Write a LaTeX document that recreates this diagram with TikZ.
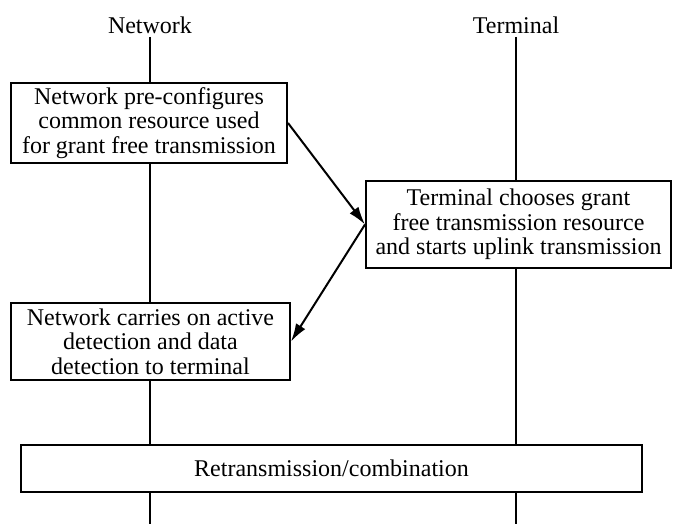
\documentclass[tikz,border=0pt]{standalone}
\usepackage{fontspec}
\setmainfont{Liberation Serif}
\usetikzlibrary{arrows.meta,positioning}

\begin{document}
\begin{tikzpicture}[x=1pt, y=1pt,
    every node/.style={font=\fontsize{24}{24.5}\selectfont},
    stepbox/.style={draw, line width=2pt, fill=white, align=center, inner sep=0pt},
    msg/.style={line width=2pt, -{Latex[length=18pt, width=11pt]}}]
    \useasboundingbox (0,0) rectangle (673,524);
    % Lebenslinien
    \node (net) at (150, 499) {Network};
    \node (term) at (516, 499) {Terminal};
    \coordinate (netend) at (150, 0);
    \coordinate (termend) at (516, 0);
    \draw[line width=1.6pt] (net.south) -- (netend);
    \draw[line width=1.6pt] (term.south) -- (termend);
    % Schritte
    \node[stepbox, minimum width=276, minimum height=80] (conf) at (149, 401)
        {Network pre-configures\\common resource used\\for grant free transmission};
    \node[stepbox, minimum width=305, minimum height=87] (choose) at (518.5, 299.5)
        {Terminal chooses grant\\free transmission resource\\and starts uplink transmission};
    \node[stepbox, minimum width=279, minimum height=77] (detect) at (150.5, 182.5)
        {Network carries on active\\detection and data\\detection to terminal};
    \node[stepbox, minimum width=621, minimum height=47] (retx) at (331.5, 55.5)
        {Retransmission/combination};
    % Nachrichten
    \draw[msg] (conf.east) -- (choose.west);
    \draw[msg] (choose.west) -- (detect.east);
\end{tikzpicture}
\end{document}
